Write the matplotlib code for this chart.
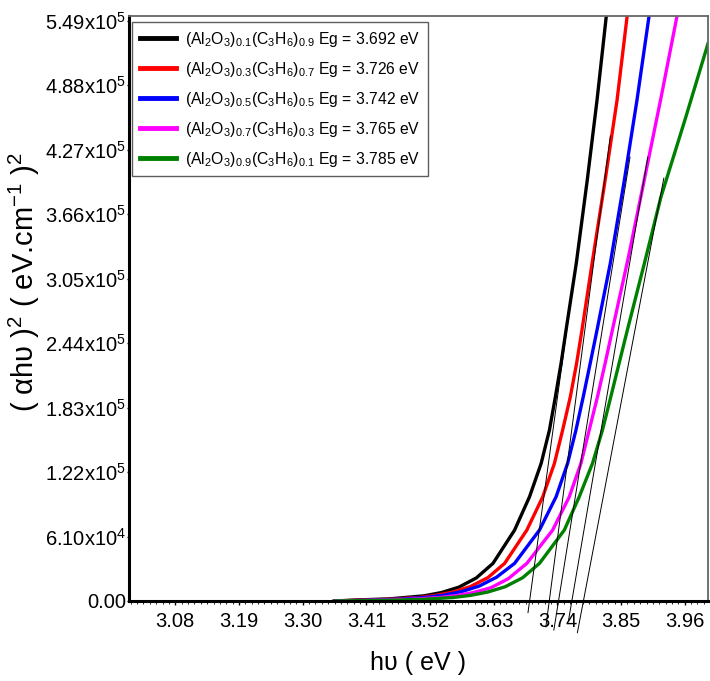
import numpy as np
import matplotlib
matplotlib.use("Agg")
import matplotlib.pyplot as plt
from matplotlib.ticker import FixedLocator, MultipleLocator

plt.rcParams['font.family'] = ['Liberation Sans', 'DejaVu Sans']
plt.rcParams['mathtext.fontset'] = 'custom'
plt.rcParams['mathtext.rm'] = 'Liberation Sans'
plt.rcParams['mathtext.it'] = 'Liberation Sans:italic'
plt.rcParams['mathtext.bf'] = 'Liberation Sans:bold'

# valores (hv em eV, (alpha hv)^2)
x_black = [3.355, 3.40, 3.45, 3.51, 3.54, 3.57, 3.60, 3.6288, 3.6661, 3.6919, 3.7120, 3.7263, 3.7366, 3.7464,
           3.7550, 3.7727, 3.7916, 3.8085, 3.8243]
y_black = [0, 1100, 2000, 4900, 8000, 13100, 21800, 35600, 67100, 98600, 130200, 161700, 193200, 224800,
           256300, 319600, 398100, 473800, 552300]

x_red = [3.355, 3.40, 3.45, 3.50, 3.53, 3.56, 3.59, 3.62, 3.6489, 3.6873, 3.7148, 3.7349, 3.7491, 3.7624, 3.7732,
         3.7825, 3.800, 3.8225, 3.8431, 3.8603]
y_red = [0, 800, 1600, 3300, 5300, 8500, 13700, 22100, 35600, 67100, 98600, 130200, 161700, 193200, 224800,
         256300, 319600, 398100, 473800, 552300]

x_blue = [3.355, 3.42, 3.47, 3.515, 3.545, 3.575, 3.605, 3.635, 3.6661, 3.7091, 3.7378, 3.7577, 3.7721, 3.7847,
          3.7967, 3.8085, 3.8315, 3.8557, 3.8775, 3.8981]
y_blue = [0, 800, 1800, 3500, 5600, 8900, 14100, 22500, 35600, 67100, 98600, 130200, 161700, 193200,
          224800, 256300, 319600, 398100, 473800, 552300]

x_mag = [3.355, 3.43, 3.49, 3.535, 3.565, 3.595, 3.625, 3.655, 3.6873, 3.7319, 3.7606, 3.7807, 3.7950, 3.8093,
         3.8225, 3.835, 3.863, 3.890, 3.919, 3.9463]
y_mag = [0, 700, 1700, 3200, 5000, 8000, 12500, 21000, 35600, 67100, 98600, 130200, 161700, 193200,
         224800, 256300, 326000, 398100, 476000, 552300]

x_green = [3.355, 3.40, 3.45, 3.51, 3.56, 3.59, 3.62, 3.65, 3.68, 3.7091, 3.7520, 3.7778, 3.8007, 3.8179, 3.8323,
           3.8466, 3.8609, 3.8904, 3.9188, 3.9618, 4.0]
y_green = [0, 300, 700, 1600, 3300, 5300, 8500, 13500, 22000, 35600, 67100, 98600, 130200, 161700, 193200,
           224800, 256300, 319600, 382000, 457700, 527000]

eg = [3.692, 3.726, 3.742, 3.765, 3.785]
comp = [("0.1", "0.9"), ("0.3", "0.7"), ("0.5", "0.5"), ("0.7", "0.3"), ("0.9", "0.1")]
# retas tangentes (extrapolação linear até y = 0)
tan_slope = [4.0e6, 4.17e6, 3.4e6, 3.2e6, 2.88e6]
tan_ybot = [-11000, -24500, -27500, -18000, -30000]
tan_ytop = [340000, 440000, 420000, 420000, 400000]

xticks = [3.08, 3.19, 3.30, 3.41, 3.52, 3.63, 3.74, 3.85, 3.96]
yticks = [0, 61000, 122000, 183000, 244000, 305000, 366000, 427000, 488000, 549000]
ytick_labels = ["0.00", "6.10x10$^{4}$", "1.22x10$^{5}$", "1.83x10$^{5}$", "2.44x10$^{5}$", "3.05x10$^{5}$",
                "3.66x10$^{5}$", "4.27x10$^{5}$", "4.88x10$^{5}$", "5.49x10$^{5}$"]

colors = ["black", "red", "blue", "magenta", "green"]
xs = [x_black, x_red, x_blue, x_mag, x_green]
ys = [y_black, y_red, y_blue, y_mag, y_green]

fig = plt.figure(figsize=(7.10, 6.81), dpi=100)
ax = fig.add_axes([0.1817, 0.1175, 0.8153, 0.859])

for x, y, c, (a, b), e in zip(xs, ys, colors, comp, eg):
    lab = "(Al$_2$O$_3$)$_{%s}$(C$_3$H$_6$)$_{%s}$ Eg = %.3f eV" % (a, b, e)
    ax.plot(x, y, color=c, lw=2.4, label=lab, solid_joinstyle="round")

for e, s, y0, y1 in zip(eg, tan_slope, tan_ybot, tan_ytop):
    yy = np.array([y0, y1])
    ax.plot(e + yy / s, yy, color="black", lw=0.7, clip_on=False)

ax.set_xlim(3.0, 4.0)
ax.set_ylim(0, 553500)
ax.xaxis.set_major_locator(FixedLocator(xticks))
ax.set_xticklabels(["%.2f" % v for v in xticks])
ax.xaxis.set_minor_locator(MultipleLocator(0.011))
ax.yaxis.set_major_locator(FixedLocator(yticks))
ax.set_yticklabels(ytick_labels)

ax.tick_params(axis="both", which="major", labelsize=14.5, width=1)
ax.tick_params(axis="y", pad=0.5, length=1.5)
ax.tick_params(axis="x", pad=5, length=3)
ax.tick_params(axis="x", which="minor", length=2, width=0.6)

for sp in ["left", "bottom"]:
    ax.spines[sp].set_linewidth(2.2)
    ax.spines[sp].set_color("black")
for sp in ["top", "right"]:
    ax.spines[sp].set_linewidth(1.3)
    ax.spines[sp].set_color("#666666")

ax.set_xlabel("h\u03c5 ( eV )", fontsize=18, labelpad=14)
ax.set_ylabel("( \u03b1h\u03c5 )$^2$ ( eV.cm$^{-1}$ )$^2$", fontsize=21)
ax.yaxis.set_label_coords(-0.15, 0.545)

leg = ax.legend(loc="upper left", bbox_to_anchor=(0.005, 0.99), fontsize=11.3, frameon=True, fancybox=False,
                edgecolor="#333333", handlelength=2.3, handletextpad=0.6, labelspacing=0.7, borderpad=0.5,
                borderaxespad=0)
leg.get_frame().set_linewidth(1.0)
for h in leg.get_lines():
    h.set_linewidth(3.5)

fig.savefig("out.png", dpi=100)
